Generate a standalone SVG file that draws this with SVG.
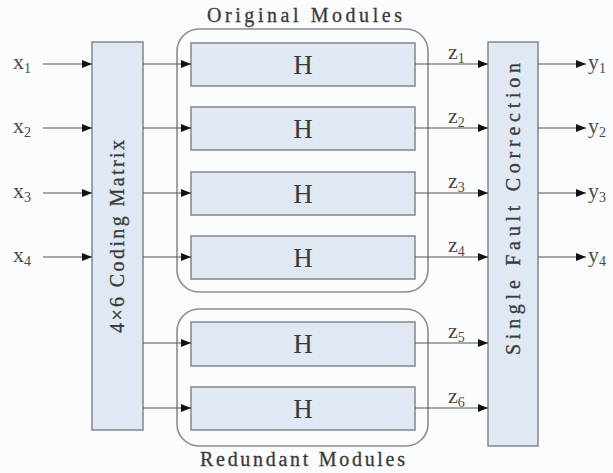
<svg xmlns="http://www.w3.org/2000/svg" width="613" height="473" viewBox="0 0 613 473">
  <defs>
    <marker id="arrow" viewBox="0 0 10 8" refX="10" refY="4" markerWidth="10" markerHeight="8" markerUnits="userSpaceOnUse" orient="auto">
      <path d="M0,0 L10,4 L0,8 Z" fill="#111"/>
    </marker>
    <style>
      .bg { fill: #fbfcfd; }
      .box { fill: #dfe8f3; stroke: #8a8d90; stroke-width: 1.6; }
      .group { fill: none; stroke: #8a8d90; stroke-width: 1.6; }
      .wire { stroke: #555; stroke-width: 1.1; fill: none; marker-end: url(#arrow); }
      text { font-family: "Liberation Serif", "DejaVu Serif", serif; fill: #3a3a3a; }
      .title { font-size: 20px; stroke: #3a3a3a; stroke-width: 0.3; }
      .h { font-size: 27px; text-anchor: middle; }
      .var { font-size: 22px; fill: #4a4a4a; }
      .sub { font-size: 14px; }
    </style>
  </defs>

  <rect class="bg" x="0" y="0" width="613" height="473"/>

  <!-- module groupings -->
  <g id="original-modules">
    <rect class="group" x="177" y="29" width="251" height="263" rx="22"/>
    <text class="title" x="207" y="22" textLength="195" lengthAdjust="spacing">Original Modules</text>
  </g>
  <g id="redundant-modules">
    <rect class="group" x="177" y="309" width="251" height="137" rx="22"/>
    <text class="title" x="200" y="466" textLength="205" lengthAdjust="spacing">Redundant Modules</text>
  </g>

  <!-- encoder -->
  <g id="coding-matrix">
    <rect class="box" x="92" y="42" width="51" height="388"/>
    <text class="title" transform="translate(124,333) rotate(-90)" textLength="193" lengthAdjust="spacing">4×6 Coding Matrix</text>
  </g>

  <!-- H modules -->
  <g id="h1"><rect class="box" x="191" y="43" width="224" height="43"/><text class="h" x="303" y="74">H</text></g>
  <g id="h2"><rect class="box" x="191" y="107" width="224" height="43"/><text class="h" x="303" y="138">H</text></g>
  <g id="h3"><rect class="box" x="191" y="172" width="224" height="43"/><text class="h" x="303" y="203">H</text></g>
  <g id="h4"><rect class="box" x="191" y="236" width="224" height="43"/><text class="h" x="303" y="267">H</text></g>
  <g id="h5"><rect class="box" x="191" y="322" width="224" height="44"/><text class="h" x="303" y="353">H</text></g>
  <g id="h6"><rect class="box" x="191" y="387" width="224" height="43"/><text class="h" x="303" y="418">H</text></g>

  <!-- decoder -->
  <g id="fault-correction">
    <rect class="box" x="488" y="42" width="50" height="404"/>
    <text class="title" transform="translate(520,355) rotate(-90)" textLength="292" lengthAdjust="spacing">Single Fault Correction</text>
  </g>

  <!-- inputs -->
  <g id="inputs">
    <text class="var" x="13" y="69">x<tspan class="sub" dy="4">1</tspan></text>
    <text class="var" x="13" y="133">x<tspan class="sub" dy="4">2</tspan></text>
    <text class="var" x="13" y="198">x<tspan class="sub" dy="4">3</tspan></text>
    <text class="var" x="13" y="262">x<tspan class="sub" dy="4">4</tspan></text>
  </g>

  <!-- outputs -->
  <g id="outputs">
    <text class="var" x="588" y="69">y<tspan class="sub" dy="4">1</tspan></text>
    <text class="var" x="588" y="133">y<tspan class="sub" dy="4">2</tspan></text>
    <text class="var" x="588" y="198">y<tspan class="sub" dy="4">3</tspan></text>
    <text class="var" x="588" y="262">y<tspan class="sub" dy="4">4</tspan></text>
  </g>

  <!-- codeword labels -->
  <g id="z-labels">
    <text class="var" x="448" y="59">z<tspan class="sub" dy="4">1</tspan></text>
    <text class="var" x="448" y="123">z<tspan class="sub" dy="4">2</tspan></text>
    <text class="var" x="448" y="188">z<tspan class="sub" dy="4">3</tspan></text>
    <text class="var" x="448" y="252">z<tspan class="sub" dy="4">4</tspan></text>
    <text class="var" x="448" y="338">z<tspan class="sub" dy="4">5</tspan></text>
    <text class="var" x="448" y="403">z<tspan class="sub" dy="4">6</tspan></text>
  </g>

  <!-- connectors -->
  <g id="connectors">
    <line class="wire" x1="43" y1="64" x2="92" y2="64"/>
    <line class="wire" x1="43" y1="128" x2="92" y2="128"/>
    <line class="wire" x1="43" y1="193" x2="92" y2="193"/>
    <line class="wire" x1="43" y1="257" x2="92" y2="257"/>

    <line class="wire" x1="143" y1="64" x2="191" y2="64"/>
    <line class="wire" x1="143" y1="128" x2="191" y2="128"/>
    <line class="wire" x1="143" y1="193" x2="191" y2="193"/>
    <line class="wire" x1="143" y1="257" x2="191" y2="257"/>
    <line class="wire" x1="143" y1="343" x2="191" y2="343"/>
    <line class="wire" x1="143" y1="408" x2="191" y2="408"/>

    <line class="wire" x1="415" y1="64" x2="488" y2="64"/>
    <line class="wire" x1="415" y1="128" x2="488" y2="128"/>
    <line class="wire" x1="415" y1="193" x2="488" y2="193"/>
    <line class="wire" x1="415" y1="257" x2="488" y2="257"/>
    <line class="wire" x1="415" y1="343" x2="488" y2="343"/>
    <line class="wire" x1="415" y1="408" x2="488" y2="408"/>

    <line class="wire" x1="538" y1="64" x2="586" y2="64"/>
    <line class="wire" x1="538" y1="128" x2="586" y2="128"/>
    <line class="wire" x1="538" y1="193" x2="586" y2="193"/>
    <line class="wire" x1="538" y1="257" x2="586" y2="257"/>
  </g>
</svg>
